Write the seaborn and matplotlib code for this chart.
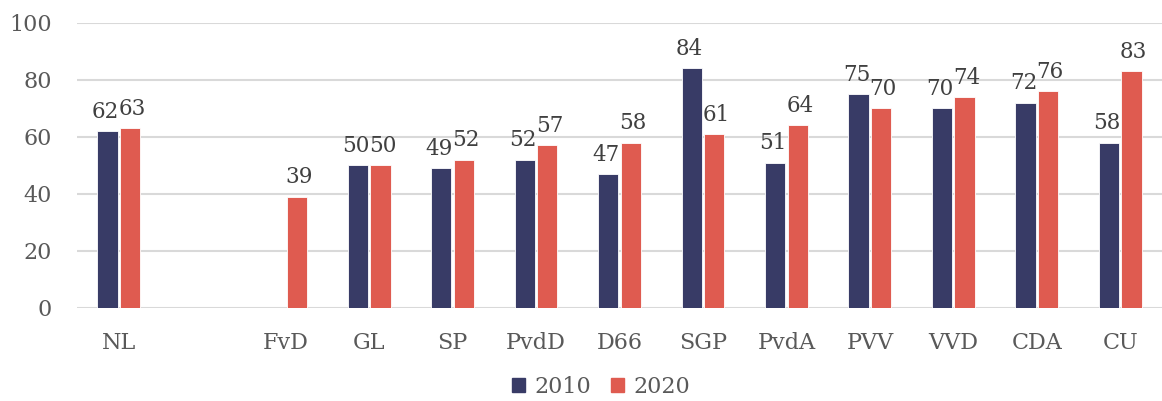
import numpy as np
import pandas as pd
import seaborn as sns
import matplotlib.pyplot as plt

sns.set_theme(style="white")
plt.rcParams['font.family'] = ['DejaVu Serif']

# Data
parties = ['NL', ' ', 'FvD', 'GL', 'SP', 'PvdD', 'D66', 'SGP', 'PvdA', 'PVV', 'VVD', 'CDA', 'CU']
vals_2010 = [62, np.nan, np.nan, 50, 49, 52, 47, 84, 51, 75, 70, 72, 58]
vals_2020 = [63, np.nan, 39, 50, 52, 57, 58, 61, 64, 70, 74, 76, 83]
years = ['2010', '2020']
colors = ['#383B66', '#DF5B50']

df = pd.DataFrame({
    'party': parties * 2,
    'year': [years[0]] * len(parties) + [years[1]] * len(parties),
    'value': vals_2010 + vals_2020,
})

fig = plt.figure(figsize=(11.62, 4.01), dpi=100)
ax = fig.add_axes([0.0663, 0.232, 0.9337, 0.711])

sns.barplot(data=df, x='party', y='value', hue='year', order=parties,
            hue_order=years, palette=colors, saturation=1, width=0.54, gap=0.1,
            edgecolor='white', linewidth=0.6, ax=ax, legend=False)

# value labels, nudged apart a little like Excel does
for cont, dx in zip(ax.containers, [-1.5, 1.5]):
    for b in cont:
        h = b.get_height()
        if np.isnan(h) or h == 0:
            continue
        ax.annotate(f'{h:.0f}', (b.get_x() + b.get_width() / 2, h),
                    xytext=(dx, 6), textcoords='offset points',
                    ha='center', va='bottom', fontsize=15.5, color='#404040')

ax.set_ylim(0, 100)
ax.set_xlim(-0.5, len(parties) - 0.5)
ax.set_yticks(range(0, 101, 20))
ax.yaxis.grid(True, color='#D9D9D9', linewidth=1.5)
ax.set_axisbelow(True)
for s in ax.spines.values():
    s.set_visible(False)
ax.tick_params(axis='both', length=0, labelsize=16, colors='#595959')
ax.tick_params(axis='y', pad=18)
ax.tick_params(axis='x', pad=17)
ax.set_xlabel('')
ax.set_ylabel('')

handles = [plt.Rectangle((0, 0), 1, 1, color=c) for c in colors]
fig.legend(handles, years, loc='center', bbox_to_anchor=(0.517, 0.035), ncol=2,
           frameon=False, fontsize=16, handlelength=0.6, handleheight=0.6,
           handletextpad=0.4, columnspacing=0.9, labelcolor='#595959')

fig.savefig('out.png', dpi=100)
